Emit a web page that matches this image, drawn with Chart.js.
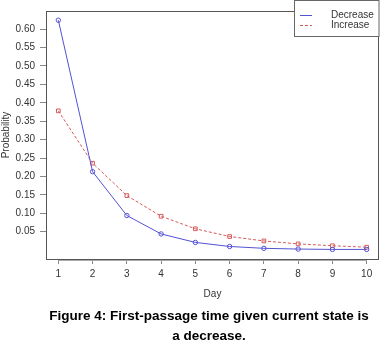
<!DOCTYPE html>
<html>
<head>
<meta charset="utf-8">
<script src="https://cdn.jsdelivr.net/npm/chart.js@4.4.0/dist/chart.umd.min.js"></script>
<style>
  html, body { margin: 0; padding: 0; background: #fff; }
  #wrap { position: relative; width: 385px; height: 349px; }
  #caption {
    position: absolute; left: 34px; width: 350px; top: 306px;
    text-align: center; font: bold 13.5px "Liberation Sans", Arial, sans-serif;
    line-height: 20px; color: #000;
  }
</style>
</head>
<body>
<div id="wrap">
  <canvas id="chart" width="385" height="349"></canvas>
  <div id="caption"></div>
</div>
<script>
// data
const days = [1, 2, 3, 4, 5, 6, 7, 8, 9, 10];
const decrease = [0.624, 0.213, 0.094, 0.044, 0.021, 0.010, 0.005, 0.003, 0.002, 0.002];
const increase = [0.378, 0.236, 0.148, 0.092, 0.058, 0.037, 0.025, 0.017, 0.012, 0.008];
const yTicks = [0.05, 0.10, 0.15, 0.20, 0.25, 0.30, 0.35, 0.40, 0.45, 0.50, 0.55, 0.60];
const seriesNames = ['Decrease', 'Increase'];
const caption = ['Figure 4: First-passage time given current state is', 'a decrease.'];

const blue = '#5252d4';
const red = '#d65a5a';

document.getElementById('caption').innerHTML = caption.join('<br>');

// frame around the plot plus an R-style legend in the top-right corner
const framePlugin = {
    id: 'frame',
    afterDraw(chart) {
        const { ctx, chartArea: a } = chart;
        ctx.save();
        ctx.strokeStyle = '#555';
        ctx.lineWidth = 1;
        ctx.strokeRect(Math.round(a.left) + 0.5, Math.round(a.top) + 0.5,
            Math.round(a.right - a.left) - 1, Math.round(a.bottom - a.top));

        // thin x axis line just under the frame
        ctx.strokeStyle = '#aaa';
        ctx.beginPath();
        const xs = chart.scales.x;
        ctx.moveTo(xs.getPixelForValue(days[0]), Math.round(a.bottom) + 1.5);
        ctx.lineTo(xs.getPixelForValue(days[days.length - 1]), Math.round(a.bottom) + 1.5);
        ctx.stroke();

        // legend
        const lx = 294.5, ly = 0.5, lw = a.right - 294.5, lh = 36;
        ctx.strokeStyle = '#666';
        ctx.fillStyle = '#fff';
        ctx.fillRect(lx, ly, lw, lh);
        ctx.strokeRect(lx, ly, lw, lh);
        ctx.font = '10px "Liberation Sans", Arial, sans-serif';
        ctx.textBaseline = 'middle';
        const rows = [
            { name: seriesNames[0], color: blue, dash: [], y: 15.5 },
            { name: seriesNames[1], color: red, dash: [3, 2], y: 25.5 }
        ];
        rows.forEach(r => {
            ctx.strokeStyle = r.color;
            ctx.setLineDash(r.dash);
            ctx.beginPath();
            ctx.moveTo(300, r.y);
            ctx.lineTo(312, r.y);
            ctx.stroke();
            ctx.setLineDash([]);
            ctx.fillStyle = '#333';
            ctx.fillText(r.name, 331, r.y);
        });
        ctx.restore();
    }
};

const ctx = document.getElementById('chart').getContext('2d');
new Chart(ctx, {
    type: 'line',
    data: {
        datasets: [
            {
                label: seriesNames[0],
                data: days.map((d, i) => ({ x: d, y: decrease[i] })),
                borderColor: blue,
                backgroundColor: 'rgba(0,0,0,0)',
                borderWidth: 1,
                pointStyle: 'circle',
                pointRadius: 2.2,
                pointBorderColor: blue,
                pointBorderWidth: 1,
                tension: 0
            },
            {
                label: seriesNames[1],
                data: days.map((d, i) => ({ x: d, y: increase[i] })),
                borderColor: red,
                backgroundColor: 'rgba(0,0,0,0)',
                borderWidth: 1,
                borderDash: [3, 2],
                pointStyle: 'rect',
                pointRadius: 2.6,
                pointBorderColor: red,
                pointBorderWidth: 1,
                tension: 0
            }
        ]
    },
    options: {
        responsive: false,
        animation: false,
        layout: { padding: { left: 0, right: 6, top: 5, bottom: 49 } },
        plugins: {
            legend: { display: false },
            tooltip: { enabled: false }
        },
        scales: {
            x: {
                type: 'linear',
                min: 0.64,
                max: 10.36,
                afterBuildTicks: scale => { scale.ticks = days.map(v => ({ value: v })); },
                afterFit: scale => { scale.height = 41; },
                ticks: {
                    color: '#333',
                    font: { family: '"Liberation Sans", Arial, sans-serif', size: 10 },
                    padding: 4,
                    maxRotation: 0,
                    autoSkip: false
                },
                grid: { drawOnChartArea: false, drawTicks: true, tickLength: 5, color: '#888', offset: false },
                border: { display: false },
                title: {
                    display: true,
                    text: 'Day',
                    color: '#333',
                    font: { family: '"Liberation Sans", Arial, sans-serif', size: 10 },
                    padding: { top: 0, bottom: 0 }
                }
            },
            y: {
                type: 'linear',
                min: -0.024,
                max: 0.649,
                afterBuildTicks: scale => { scale.ticks = yTicks.map(v => ({ value: v })); },
                afterFit: scale => { scale.width = 46; },
                ticks: {
                    color: '#333',
                    font: { family: '"Liberation Sans", Arial, sans-serif', size: 10 },
                    padding: 5,
                    callback: v => v.toFixed(2)
                },
                grid: { drawOnChartArea: false, drawTicks: true, tickLength: 6, color: '#888' },
                border: { display: false },
                title: {
                    display: true,
                    text: 'Probability',
                    color: '#333',
                    font: { family: '"Liberation Sans", Arial, sans-serif', size: 10 },
                    padding: { top: 0, bottom: 0 }
                }
            }
        }
    },
    plugins: [framePlugin]
});
</script>
</body>
</html>
